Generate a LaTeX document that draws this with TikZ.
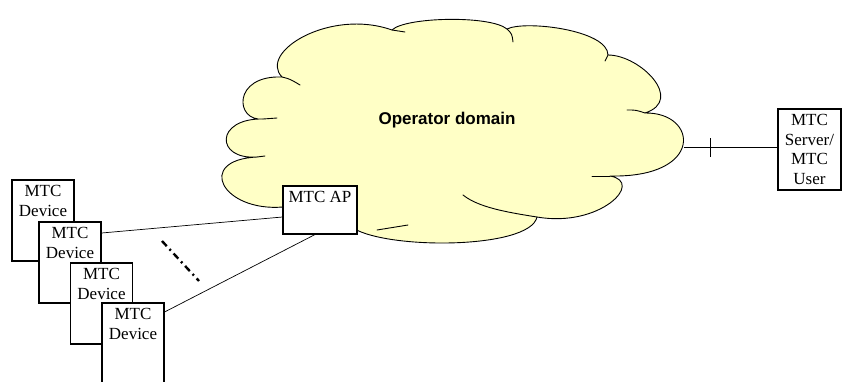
\documentclass[tikz,border=0pt]{standalone}
\usepackage{fontspec}
\setmainfont{Liberation Serif}
\newfontfamily\domainfont{Liberation Sans}
\definecolor{cloudfill}{HTML}{FFFFC6}
\tikzset {
    box/.style = {draw, fill = white, line width = 1.1pt, rectangle, inner sep = 0pt},
    device/.style = {box, minimum width = 62pt, minimum height = 81pt},
    box text/.style = {
        anchor = north, align = center, inner sep = 0pt, yshift = -6pt,
        font = \fontsize{17}{19.5}\selectfont
    },
    cloud line/.style = {line width = 0.9pt, line join = round, line cap = round},
    link/.style = {draw, line width = 0.7pt},
    %
    cut/.pic = {
        \draw [line width = 0.7pt] (0, -9.5pt) -- (0, 9.5pt);
    },
}

\begin{document}
\begin{tikzpicture}[x = 1pt, y = -1pt]
    \useasboundingbox (0, 0) rectangle (842, 381);
    % operator domain cloud
    \path [cloud line, draw, fill = cloudfill]
        (282, 77) .. controls (258, 52) and (330, 8) .. (392, 30)
        .. controls (405, 17) and (490, 15) .. (507, 29)
        .. controls (525, 20) and (608, 30) .. (608, 55)
        .. controls (640, 55) and (685, 100) .. (645, 113)
        .. controls (698, 112) and (705, 178) .. (610, 176)
        .. controls (645, 182) and (600, 228) .. (537, 217)
        .. controls (530, 250) and (380, 250) .. (350, 226)
        .. controls (330, 232) and (290, 215) .. (283, 207)
        .. controls (222, 212) and (195, 160) .. (257, 157)
        .. controls (215, 160) and (215, 118) .. (263, 119)
        .. controls (235, 122) and (232, 75) .. (282, 77) -- cycle;
    \draw [cloud line] (282, 77) .. controls (290, 79) .. (300, 85);
    \draw [cloud line] (392, 30) -- (405, 32);
    \draw [cloud line] (507, 29) .. controls (512, 34) .. (513, 42);
    \draw [cloud line] (608, 55) -- (605, 61);
    \draw [cloud line] (645, 113) .. controls (636, 110) .. (627, 110);
    \draw [cloud line] (610, 176) -- (592, 176);
    \draw [cloud line] (537, 217) .. controls (505, 212) and (478, 207) .. (463, 195);
    \draw [cloud line] (377, 230) .. controls (392, 227) .. (408, 225);
    \draw [cloud line] (263, 119) -- (277, 118);
    \draw [cloud line] (257, 157) -- (265, 156);
    \node (dom) at (447, 120) {\domainfont\bfseries\fontsize{17}{20}\selectfont Operator domain};
    \coordinate (cl east) at (684, 147);
    \node (ap) [box, minimum width = 74pt, minimum height = 48pt,
        label = {[box text]north:MTC AP}] at (320, 210) {};
    \node (srv) [box, minimum width = 63pt, minimum height = 81pt,
        label = {[box text]north:MTC\\Server/\\MTC\\User}] at (809.5, 149.5) {};
    \node (d1) [device, label = {[box text]north:MTC\\Device}] at (43, 220.5) {};
    \node (d2) [device, label = {[box text]north:MTC\\Device}] at (70, 262.5) {};
    \node (d3) [device, label = {[box text]north:MTC\\Device}] at (101.5, 303.5) {};
    \node (d4) [device, label = {[box text]north:MTC\\Device}] at (133, 343.5) {};
    \draw [link] ([yshift = 29.5pt]d2.east) -- ([yshift = -7pt]ap.west);
    \draw [link] ([yshift = 31.5pt]d4.east) -- ([xshift = -5pt]ap.south);
    \draw [link] (cl east) -- ([yshift = 2.5pt]srv.west) pic [pos = 0.28] {cut};
    \coordinate (dots a) at (162, 241);
    \coordinate (dots b) at (199, 281);
    \draw [line width = 2.4pt, dash pattern = on 7pt off 4pt on 2pt off 4pt] (dots a) -- (dots b);
\end{tikzpicture}
\end{document}
